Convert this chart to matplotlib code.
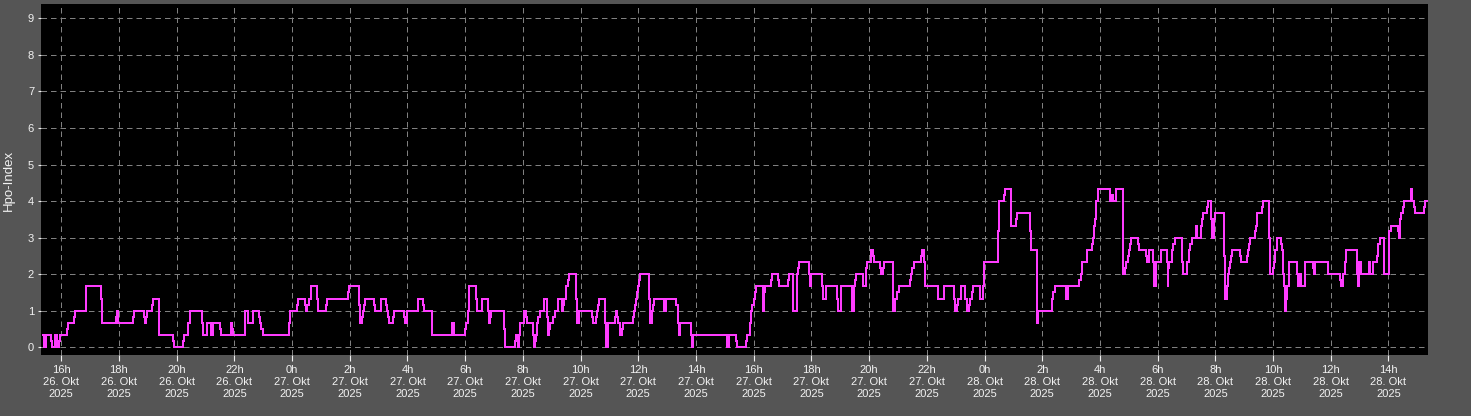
import matplotlib
matplotlib.use('Agg')
import matplotlib.pyplot as plt
from matplotlib.ticker import FixedLocator

# Hpo-Index, 26.-28. Okt 2025
# time = hours since 26 Oct 2025 00:00, value holds until the next entry
hours = [
    15.38, 15.41, 15.47, 15.63, 15.67, 15.78, 15.84, 15.92, 15.96, 16.21,
    16.25, 16.46, 16.49, 16.85, 16.87, 17.38, 17.41, 17.91, 17.93, 17.98,
    18.48, 18.53, 18.87, 18.90, 18.94, 18.97, 19.15, 19.17, 19.38, 19.40,
    19.89, 19.91, 20.21, 20.24, 20.41, 20.46, 20.89, 20.91, 21.07, 21.18,
    21.20, 21.26, 21.51, 21.54, 21.87, 21.93, 21.96, 22.37, 22.46, 22.49,
    22.64, 22.84, 22.89, 22.94, 22.98,
    23.90, 23.94, 24.17, 24.21, 24.45, 24.48, 24.53, 24.58, 24.66, 24.88,
    24.90, 25.19, 25.22, 25.94, 25.97, 26.32, 26.35, 26.41, 26.45, 26.50,
    26.54, 26.85, 26.88, 27.07, 27.26, 27.30, 27.33, 27.36, 27.51, 27.54,
    27.88, 27.92, 27.98, 28.38, 28.53, 28.57, 28.84, 29.56, 29.61, 30.01,
    30.04, 30.10, 30.12, 30.38, 30.41, 30.57, 30.79, 30.82, 30.86, 30.90,
    31.33, 31.38, 31.73, 31.76, 31.82, 31.87, 31.91, 32.03, 32.10, 32.14,
    32.36, 32.38, 32.42, 32.45, 32.50, 32.54, 32.59, 32.72, 32.85, 32.87,
    32.91, 32.95, 33.06, 33.10, 33.21, 33.34, 33.38, 33.42, 33.48, 33.51,
    33.55, 33.59, 33.85, 33.87, 33.93, 34.38, 34.42, 34.54, 34.57, 34.60,
    34.63, 34.85, 34.88, 34.94, 35.18, 35.22, 35.28, 35.31, 35.38, 35.44,
    35.47, 35.82, 35.85, 35.89, 35.92, 35.96, 35.99, 36.01, 36.06, 36.38,
    36.39, 36.46, 36.50, 36.54, 36.90, 36.97, 37.31, 37.36, 37.39, 37.40,
    37.44, 37.82, 37.85, 37.89, 39.08, 39.15,
    39.38, 39.41, 39.72, 39.76, 39.88, 39.92, 39.95, 40.00, 40.05, 40.09,
    40.34, 40.37, 40.39, 40.59, 40.62, 40.83, 40.88, 41.18, 41.21, 41.36,
    41.49, 41.54, 41.58, 41.92, 41.94, 42.00, 42.38, 42.40, 42.49, 42.88,
    42.91, 43.02, 43.40, 43.41, 43.47, 43.51, 43.56, 43.80, 43.88, 43.92,
    44.05, 44.08, 44.14, 44.18, 44.38, 44.40, 44.47, 44.51, 44.82, 44.84,
    44.91, 44.96, 45.05, 45.41, 45.46, 45.50, 45.54, 45.80, 45.83, 45.90,
    45.93, 46.38, 46.60, 46.95, 46.97, 47.04, 47.08, 47.17,
    47.34, 47.38, 47.47, 47.51, 47.56, 47.60, 47.83, 47.86, 47.95, 47.99,
    48.45, 48.49, 48.68, 48.72, 48.92, 49.10, 49.14, 49.56, 49.60, 49.81,
    49.84, 49.87, 50.34, 50.37, 50.43, 50.81, 50.83, 50.90, 51.29, 51.33,
    51.38, 51.54, 51.71, 51.75, 51.80, 51.83, 51.85, 51.88, 51.92, 52.34,
    52.39, 52.44, 52.57, 52.79, 52.81, 52.87, 52.91, 52.96, 53.01, 53.03,
    53.06, 53.32, 53.35, 53.58, 53.62, 53.69, 53.83, 53.86, 53.87, 53.93,
    54.13, 54.31, 54.35, 54.37, 54.39, 54.49, 54.53, 54.59, 54.84, 54.87,
    55.02, 55.08, 55.13,
    55.20, 55.32, 55.38, 55.52, 55.55, 55.57, 55.71, 55.75, 55.86, 55.88,
    55.94, 55.99, 56.31, 56.35, 56.42, 56.45, 56.48, 56.52, 56.55, 56.59,
    56.87, 56.90, 57.11, 57.14, 57.18, 57.21, 57.36, 57.40, 57.43, 57.46,
    57.60, 57.64, 57.87, 57.89, 58.00, 58.03, 58.08, 58.13, 58.28, 58.32,
    58.34, 58.39, 58.40, 58.46, 58.49, 58.54, 58.56, 58.84, 58.87, 58.92,
    58.96, 59.10, 59.39, 59.43, 59.45, 59.89, 59.92, 60.33, 60.35, 60.44,
    60.49, 60.52, 60.91, 60.95, 60.99, 61.05, 61.32, 61.37, 61.46, 61.59,
    61.62, 61.65, 61.70, 61.85, 62.01, 62.03, 62.08, 62.33, 62.36, 62.39,
    62.42, 62.50, 62.53, 62.77, 62.79, 62.83, 62.89, 62.92, 63.24, 63.28,
    63.32,
]

hpo = [
    0.33, 0.0, 0.33, 0.17, 0.0, 0.33, 0.0, 0.17, 0.33, 0.5,
    0.67, 0.83, 1.0, 1.33, 1.67, 1.33, 0.67, 0.83, 1.0, 0.67,
    0.83, 1.0, 0.83, 0.67, 0.83, 1.0, 1.17, 1.33, 0.83, 0.33,
    0.17, 0.0, 0.17, 0.33, 0.67, 1.0, 0.67, 0.33, 0.67, 0.5,
    0.33, 0.67, 0.5, 0.33, 0.67, 0.5, 0.33, 1.0, 0.83, 0.67,
    1.0, 0.83, 0.67, 0.5, 0.33,
    0.67, 1.0, 1.17, 1.33, 1.17, 1.0, 1.17, 1.33, 1.67, 1.33,
    1.0, 1.17, 1.33, 1.5, 1.67, 1.17, 0.67, 0.83, 1.0, 1.17,
    1.33, 1.17, 1.0, 1.33, 1.17, 1.0, 0.83, 0.67, 0.83, 1.0,
    0.83, 0.67, 1.0, 1.33, 1.17, 1.0, 0.33, 0.67, 0.33, 0.5,
    0.67, 1.0, 1.67, 1.33, 1.0, 1.33, 1.0, 0.67, 0.83, 1.0,
    0.5, 0.0, 0.17, 0.33, 0.0, 0.33, 0.67, 1.0, 0.83, 0.67,
    0.33, 0.0, 0.17, 0.33, 0.67, 0.83, 1.0, 1.33, 0.83, 0.33,
    0.5, 0.67, 0.83, 1.0, 1.33, 1.0, 1.17, 1.33, 1.5, 1.67,
    1.83, 2.0, 1.33, 0.67, 1.0, 0.83, 0.67, 0.83, 1.0, 1.17,
    1.33, 0.67, 0.0, 0.67, 0.83, 1.0, 0.83, 0.67, 0.33, 0.5,
    0.67, 0.83, 1.0, 1.17, 1.33, 1.5, 1.67, 1.83, 2.0, 1.33,
    0.67, 1.0, 1.17, 1.33, 1.0, 1.33, 1.17, 1.0, 0.67, 0.33,
    0.67, 0.33, 0.0, 0.33, 0.0, 0.33,
    0.17, 0.0, 0.17, 0.33, 0.67, 1.0, 1.17, 1.33, 1.5, 1.67,
    1.0, 1.5, 1.67, 1.83, 2.0, 1.83, 1.67, 1.83, 2.0, 1.0,
    2.0, 2.17, 2.33, 2.0, 1.67, 2.0, 1.67, 1.33, 1.67, 1.33,
    1.0, 1.67, 1.33, 1.0, 1.67, 1.83, 2.0, 1.67, 2.17, 2.33,
    2.5, 2.67, 2.5, 2.33, 2.17, 2.0, 2.17, 2.33, 1.67, 1.0,
    1.33, 1.5, 1.67, 1.83, 2.0, 2.17, 2.33, 2.5, 2.67, 2.33,
    1.67, 1.33, 1.67, 1.33, 1.0, 1.17, 1.33, 1.67,
    1.33, 1.0, 1.17, 1.33, 1.5, 1.67, 1.5, 1.33, 1.67, 2.33,
    3.17, 4.0, 4.17, 4.33, 3.33, 3.5, 3.67, 3.17, 2.67, 0.67,
    0.83, 1.0, 1.33, 1.5, 1.67, 1.5, 1.33, 1.67, 1.83, 2.0,
    2.33, 2.67, 2.83, 3.0, 3.33, 3.5, 3.67, 4.0, 4.33, 4.0,
    4.17, 4.0, 4.33, 3.17, 2.0, 2.17, 2.33, 2.5, 2.67, 2.83,
    3.0, 2.83, 2.67, 2.5, 2.33, 2.67, 2.33, 2.0, 1.67, 2.33,
    2.67, 2.33, 1.67, 2.17, 2.33, 2.67, 2.83, 3.0, 2.33, 2.0,
    2.33, 2.67, 2.83,
    3.0, 3.33, 3.0, 3.33, 3.5, 3.67, 3.83, 4.0, 3.5, 3.0,
    3.5, 3.67, 2.5, 1.33, 1.67, 2.0, 2.17, 2.33, 2.5, 2.67,
    2.5, 2.33, 2.5, 2.67, 2.83, 3.0, 3.17, 3.33, 3.5, 3.67,
    3.83, 4.0, 3.0, 2.0, 2.17, 2.33, 2.67, 3.0, 2.83, 2.67,
    2.0, 1.67, 1.0, 1.33, 1.67, 2.0, 2.33, 2.0, 1.67, 2.0,
    1.67, 2.33, 2.17, 2.0, 2.33, 2.17, 2.0, 1.83, 1.67, 2.0,
    2.33, 2.67, 2.0, 1.67, 2.33, 2.0, 2.33, 2.0, 2.33, 2.5,
    2.67, 2.83, 3.0, 2.0, 3.0, 3.17, 3.33, 3.17, 3.0, 3.5,
    3.67, 3.83, 4.0, 4.17, 4.33, 4.0, 3.83, 3.67, 3.83, 4.0,
    4.0,
]

tick_hours = list(range(16, 63, 2))
tick_labels = [f'{h % 24}h\n{26 + h // 24}. Okt\n2025' for h in tick_hours]
y_ticks = list(range(0, 10))

BG = '#555555'
TXT = '#f2f2f2'
GRID = '#808080'
LINE = '#ff3cff'

plt.rcParams['font.family'] = ['Liberation Sans', 'DejaVu Sans']

fig = plt.figure(figsize=(14.71, 4.16), dpi=100, facecolor=BG)
ax = fig.add_axes([41 / 1471, 1 - 355 / 416, 1387 / 1471, 351 / 416])
ax.set_facecolor('black')

ax.plot(hours, hpo, drawstyle='steps-post', color=LINE, linewidth=1.1,
        antialiased=False, zorder=3)

ax.set_xlim(15.30, 63.37)
ax.set_ylim(-0.21, 9.39)

ax.xaxis.set_major_locator(FixedLocator(tick_hours))
ax.set_xticklabels(tick_labels)
ax.set_yticks(y_ticks)

ax.tick_params(axis='x', colors=TXT, labelsize=8, length=4, width=0.8, pad=3)
ax.tick_params(axis='y', colors=TXT, labelsize=8, length=2, width=0.8, pad=3)
for lab in ax.get_xticklabels():
    lab.set_linespacing(1.25)

ax.grid(True, color=GRID, linestyle=(0, (5.5, 4)), linewidth=0.72)
for s in ax.spines.values():
    s.set_visible(False)

fig.text(8.5 / 1471, 1 - 180 / 416, 'Hpo-Index', rotation=90,
         color=TXT, fontsize=9.5, ha='center', va='center')

fig.savefig('out.png', dpi=100, facecolor=BG)
